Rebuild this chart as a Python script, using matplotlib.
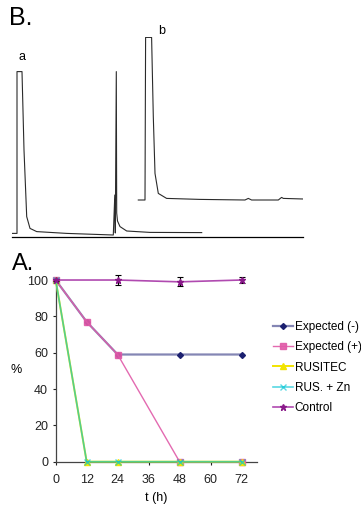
import matplotlib.pyplot as plt
import numpy as np

plt.rcParams['font.family'] = ['Liberation Sans', 'DejaVu Sans']

# ---- panel B: chromatograms (retention time, signal)
time_a = [0, 0.5, 0.5, 1.0, 1.2, 1.47, 1.8, 2.47, 5.47, 10.13, 10.28, 10.33, 10.43, 10.47,
          10.55, 10.8, 11.47, 13.8, 18.97]
signal_a = [1.8, 1.8, 82.7, 82.7, 43.5, 10.2, 4.3, 2.7, 1.8, 1.0, 21.0, 2.0, 82.7, 12.0,
            8.0, 5.2, 3.0, 2.3, 2.2]

time_b = [0, 0.67, 0.73, 1.33, 1.5, 1.67, 2.0, 2.83, 6.17, 10.67, 11.0, 11.33, 14.0,
          14.33, 14.5, 16.5]
signal_b = [0, 0, 81.3, 81.3, 41.7, 13.3, 3.3, 0.8, 0.3, 0, 0.8, 0, 0, 1.3, 0.8, 0.5]
b_shift_t = 12.63
b_shift_s = 18.5

# ---- panel A: survival curves
t_hours = [0, 12, 24, 48, 72]
expected_minus = [100, 77, 59, 59, 59]
expected_plus = [100, 77, 59, 0, 0]
rusitec = [100, 0, 0, 0, 0]
rus_zn = [100, 0, 0, 0, 0]
control_t = [0, 24, 48, 72]
control = [100, 100, 99, 100]
control_err = [0.5, 2.5, 2.5, 1.8]

W, H = 361, 508
fig = plt.figure(figsize=(W / 100, H / 100), dpi=100)

# panel B
axb = fig.add_axes([12 / W, (H - 237) / H, 291 / W, 200 / H])
axb.plot(time_a, signal_a, color='#2b2b2b', lw=0.8)
axb.plot(np.array(time_b) + b_shift_t, np.array(signal_b) + b_shift_s, color='#2b2b2b', lw=0.8)
axb.set_xlim(0, 29.1)
axb.set_ylim(0, 100)
for s in ['top', 'right', 'left']:
    axb.spines[s].set_visible(False)
axb.spines['bottom'].set_linewidth(0.9)
axb.set_xticks([])
axb.set_yticks([])
axb.text(1.0, 90, 'a', fontsize=9, ha='center', va='center')
axb.text(15.0, 103, 'b', fontsize=9, ha='center', va='center', clip_on=False)
fig.text(9 / W, 1 - 6 / H, 'B.', fontsize=18, ha='left', va='top')

# panel A
ax = fig.add_axes([55.7 / W, (H - 461.7) / H, 201.3 / W, 183.5 / H])
ax.plot(t_hours, expected_minus, color='#8486b4', lw=1.6, marker='D', ms=3,
        mfc='#1c2070', mec='#1c2070', label='Expected (-)', clip_on=False, zorder=3)
ax.plot(t_hours, expected_plus, color='#e05aa8', lw=1.0, marker='s', ms=4.5,
        mfc='#e05aa8', mec='#e05aa8', alpha=0.9, label='Expected (+)', clip_on=False, zorder=4)
ax.plot(t_hours, rusitec, color='#f2e400', lw=1.4, marker='^', ms=4,
        mfc='#f2e400', mec='#f2e400', label='RUSITEC', clip_on=False, zorder=5)
ax.plot(t_hours, rus_zn, color='#00c4d4', lw=1.2, marker='x', ms=4, mew=1,
        alpha=0.65, label='RUS. + Zn', clip_on=False, zorder=6)
ax.errorbar(control_t, control, yerr=control_err, fmt='none', ecolor='black',
            elinewidth=0.8, capsize=2, capthick=0.8, clip_on=False, zorder=7)
ax.plot(control_t, control, color='#b04ab0', lw=1.2, marker='*', ms=5,
        mfc='#8a1a8a', mec='#8a1a8a', label='Control', clip_on=False, zorder=8)

ax.set_xlim(0, 78)
ax.set_ylim(0, 101)
ax.set_xticks([0, 12, 24, 36, 48, 60, 72])
ax.set_yticks([0, 20, 40, 60, 80, 100])
for s in ['top', 'right']:
    ax.spines[s].set_visible(False)
for s in ['left', 'bottom']:
    ax.spines[s].set_linewidth(0.9)
    ax.spines[s].set_color('#444444')
ax.tick_params(labelsize=9, length=2.5, width=0.8, colors='#222222')
ax.tick_params(axis='x', pad=6)
ax.tick_params(axis='y', pad=3)
ax.set_xlabel('t (h)', fontsize=9, labelpad=5)
ax.set_ylabel('%', fontsize=9, rotation=0, labelpad=8, va='center')
fig.text(12 / W, 1 - 253 / H, 'A.', fontsize=17, ha='left', va='top')

ax.legend(loc='upper left', bbox_to_anchor=(273 / W, 1 - 321 / H),
          bbox_transform=fig.transFigure, frameon=False, fontsize=8.5,
          handlelength=1.7, handletextpad=0.15, labelspacing=0.7, borderpad=0,
          borderaxespad=0)

fig.savefig('out.png', dpi=100)
